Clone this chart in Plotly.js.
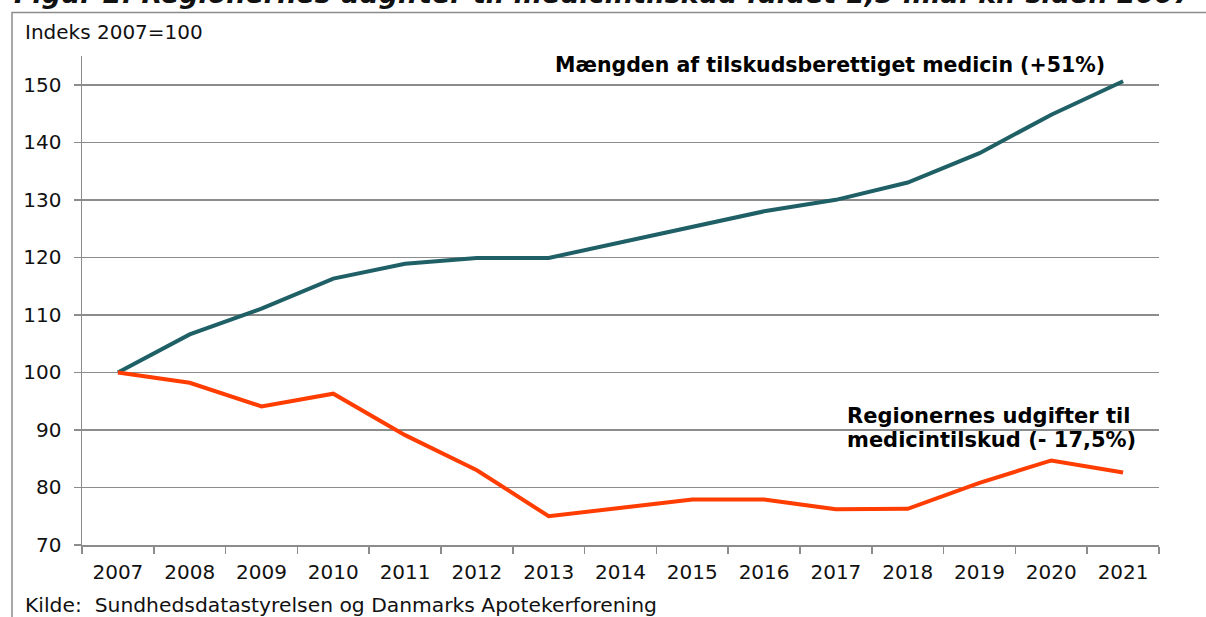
<!DOCTYPE html>
<html>
<head>
<meta charset="utf-8">
<script src="https://cdn.plot.ly/plotly-3.0.1.min.js"></script>
<style>html,body{margin:0;padding:0;background:#fff;}#chart{width:1206px;height:617px;}</style>
</head>
<body>
<div id="chart"></div>
<script>
const years = ["2007","2008","2009","2010","2011","2012","2013","2014","2015","2016","2017","2018","2019","2020","2021"];
const maengde = [100, 106.6, 111.1, 116.3, 118.9, 119.9, 119.9, 122.6, 125.4, 128.0, 130.0, 133.0, 138.1, 144.8, 150.6];
const udgifter = [100, 98.2, 94.1, 96.3, 89.1, 83.0, 75.0, 76.5, 77.9, 77.9, 76.2, 76.3, 80.8, 84.7, 82.6];
const yTicks = [70, 80, 90, 100, 110, 120, 130, 140, 150];

const FONT = "DejaVu Sans, Verdana, sans-serif";
const data = [
  {x: years, y: maengde, type: "scatter", mode: "lines", line: {color: "#1f5f66", width: 4}, hoverinfo: "x+y"},
  {x: years, y: udgifter, type: "scatter", mode: "lines", line: {color: "#ff3d00", width: 4}, hoverinfo: "x+y"}
];
const layout = {
  width: 1206, height: 617,
  margin: {l: 82, r: 47, t: 56, b: 72},
  paper_bgcolor: "#fff", plot_bgcolor: "#fff",
  showlegend: false,
  font: {family: FONT, size: 20, color: "#111"},
  xaxis: {
    type: "category", range: [-0.5, 14.5], tickson: "boundaries", ticks: "outside", ticklen: 7, tickwidth: 1.5, tickcolor: "#8c8c8c",
    showline: true, linecolor: "#8c8c8c", linewidth: 1.5, showgrid: false, zeroline: false, ticklabelstandoff: 8,
    tickfont: {family: FONT, size: 20, color: "#111"}, fixedrange: true
  },
  yaxis: {
    range: [70, 155], tickvals: yTicks, ticks: "outside", ticklen: 7, tickwidth: 1.5, tickcolor: "#8c8c8c",
    showline: true, linecolor: "#8c8c8c", linewidth: 1.5, showgrid: true, gridcolor: "#8c8c8c", gridwidth: 1.5,
    zeroline: false, ticklabelstandoff: 8, tickfont: {family: FONT, size: 20, color: "#111"}, fixedrange: true
  },
  shapes: [
    {type: "rect", xref: "paper", yref: "paper", x0: -0.065, x1: 1.06, y0: -0.16, y1: 1.089,
     line: {color: "#8c8c8c", width: 1.5}, fillcolor: "rgba(0,0,0,0)", layer: "below"}
  ],
  annotations: [
    {xref: "paper", yref: "paper", x: -0.0648, y: 1.092, xanchor: "left", yanchor: "bottom", showarrow: false,
     text: "<b><i>Figur 2. Regionernes udgifter til medicintilskud faldet 1,5 mia. kr. siden 2007</i></b>",
     font: {family: FONT, size: 27, color: "#111"}},
    {xref: "paper", yref: "paper", x: -0.0548, y: 1.050, xanchor: "left", yanchor: "middle", showarrow: false,
     text: "Indeks 2007=100", font: {family: FONT, size: 20, color: "#111"}},
    {xref: "paper", yref: "paper", x: -0.0548, y: -0.1227, xanchor: "left", yanchor: "middle", showarrow: false,
     text: "Kilde:\u00a0 Sundhedsdatastyrelsen og Danmarks Apotekerforening", font: {family: FONT, size: 20.3, color: "#111"}},
    {xref: "paper", yref: "paper", x: 0.6945, y: 0.9816, xanchor: "center", yanchor: "middle", showarrow: false,
     text: "<b>Mængden af tilskudsberettiget medicin (+51%)</b>", font: {family: FONT, size: 20.5, color: "#000"}},
    {xref: "paper", yref: "paper", x: 0.7084, y: 0.2638, xanchor: "left", yanchor: "middle", align: "left", showarrow: false,
     text: "<b>Regionernes udgifter til</b>", font: {family: FONT, size: 21, color: "#000"}},
    {xref: "paper", yref: "paper", x: 0.7084, y: 0.2147, xanchor: "left", yanchor: "middle", align: "left", showarrow: false,
     text: "<b>medicintilskud (- 17,5%)</b>", font: {family: FONT, size: 21, color: "#000"}}
  ]
};
Plotly.newPlot("chart", data, layout, {displayModeBar: false, staticPlot: true});
</script>
</body>
</html>
